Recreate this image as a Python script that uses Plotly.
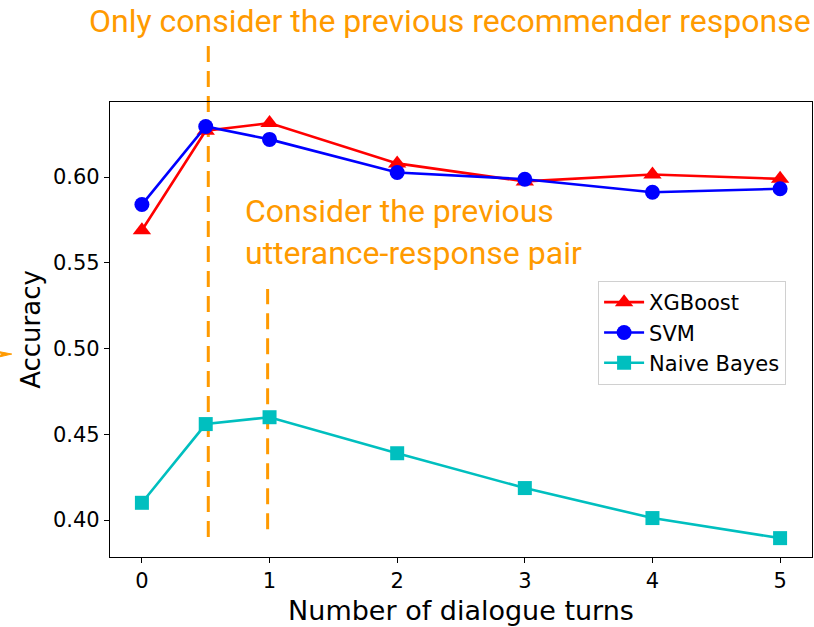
import plotly.graph_objects as go

# Accuracy by number of dialogue turns for three classifiers
turns = [0, 0.5, 1, 2, 3, 4, 5]
xgboost = [0.569, 0.627, 0.6315, 0.608, 0.5975, 0.6015, 0.599]
svm = [0.584, 0.6295, 0.622, 0.6027, 0.5988, 0.5912, 0.5932]
naive_bayes = [0.4101, 0.456, 0.460, 0.439, 0.4187, 0.4012, 0.3895]

x_ticks = [0, 1, 2, 3, 4, 5]
y_ticks = [0.40, 0.45, 0.50, 0.55, 0.60]

ORANGE = "#FF9A00"
TICK_FONT = dict(family="DejaVu Sans", size=21, color="black")
NOTE_FONT = dict(family="Roboto", size=32, color=ORANGE)

fig = go.Figure()

series = [
    ("XGBoost", xgboost, "#FF0000", "triangle-up", 16),
    ("SVM", svm, "#0000FF", "circle", 15),
    ("Naive Bayes", naive_bayes, "#00BFBF", "square", 14),
]
for name, vals, color, symbol, msize in series:
    fig.add_trace(go.Scatter(
        x=turns, y=vals, name=name, mode="lines+markers",
        line=dict(color=color, width=2.6),
        marker=dict(symbol=symbol, size=msize, color=color),
        cliponaxis=False,
    ))

# Dashed guides marking the two context settings
DASH = dict(color=ORANGE, width=3, dash="16px,9px")
fig.add_shape(type="line", xref="x", yref="paper", x0=0.52, x1=0.52, y0=0.044, y1=1.133,
              line=DASH, layer="below")
fig.add_shape(type="line", xref="x", yref="y", x0=0.985, x1=0.985, y0=0.3947, y1=0.5348,
              line=DASH, layer="below")

fig.add_annotation(text="Only consider the previous recommender response",
                   xref="paper", yref="paper", x=0.484, y=1.177,
                   xanchor="center", yanchor="middle", showarrow=False, font=NOTE_FONT)
fig.add_annotation(text="Consider the previous<br>utterance-response pair",
                   xref="x", yref="y", x=0.79, y=0.568,
                   xanchor="left", yanchor="middle", align="left",
                   showarrow=False, font=NOTE_FONT)

# Small arrowhead at the left edge
fig.add_shape(type="path", xref="paper", yref="paper",
              path="M -0.160 0.452 L -0.140 0.446 L -0.160 0.439 L -0.154 0.446 Z",
              fillcolor=ORANGE, line=dict(color=ORANGE, width=1))

axis_common = dict(showline=True, linecolor="black", linewidth=1.2, mirror=True,
                   ticks="outside", ticklen=5, tickwidth=1.2, tickcolor="black",
                   showgrid=False, zeroline=False, tickfont=TICK_FONT)

fig.update_xaxes(range=[-0.25, 5.25], tickvals=x_ticks,
                 title=dict(text="Number of dialogue turns",
                            font=dict(family="DejaVu Sans", size=27, color="black"),
                            standoff=8),
                 **axis_common)
fig.update_yaxes(range=[0.3785, 0.6438], tickvals=y_ticks, tickformat=".2f",
                 title=dict(text="Accuracy",
                            font=dict(family="DejaVu Sans", size=26, color="black"),
                            standoff=4),
                 **axis_common)

fig.update_layout(
    width=814, height=627,
    margin=dict(l=110, r=2, t=102, b=70),
    paper_bgcolor="white", plot_bgcolor="white",
    legend=dict(x=0.695, y=0.607, xanchor="left", yanchor="top",
                bgcolor="rgba(255,255,255,0.8)", bordercolor="#d0d0d0", borderwidth=1.2,
                font=dict(family="DejaVu Sans", size=21, color="black"),
                itemwidth=40),
    showlegend=True,
)

fig.write_html("out.html")
